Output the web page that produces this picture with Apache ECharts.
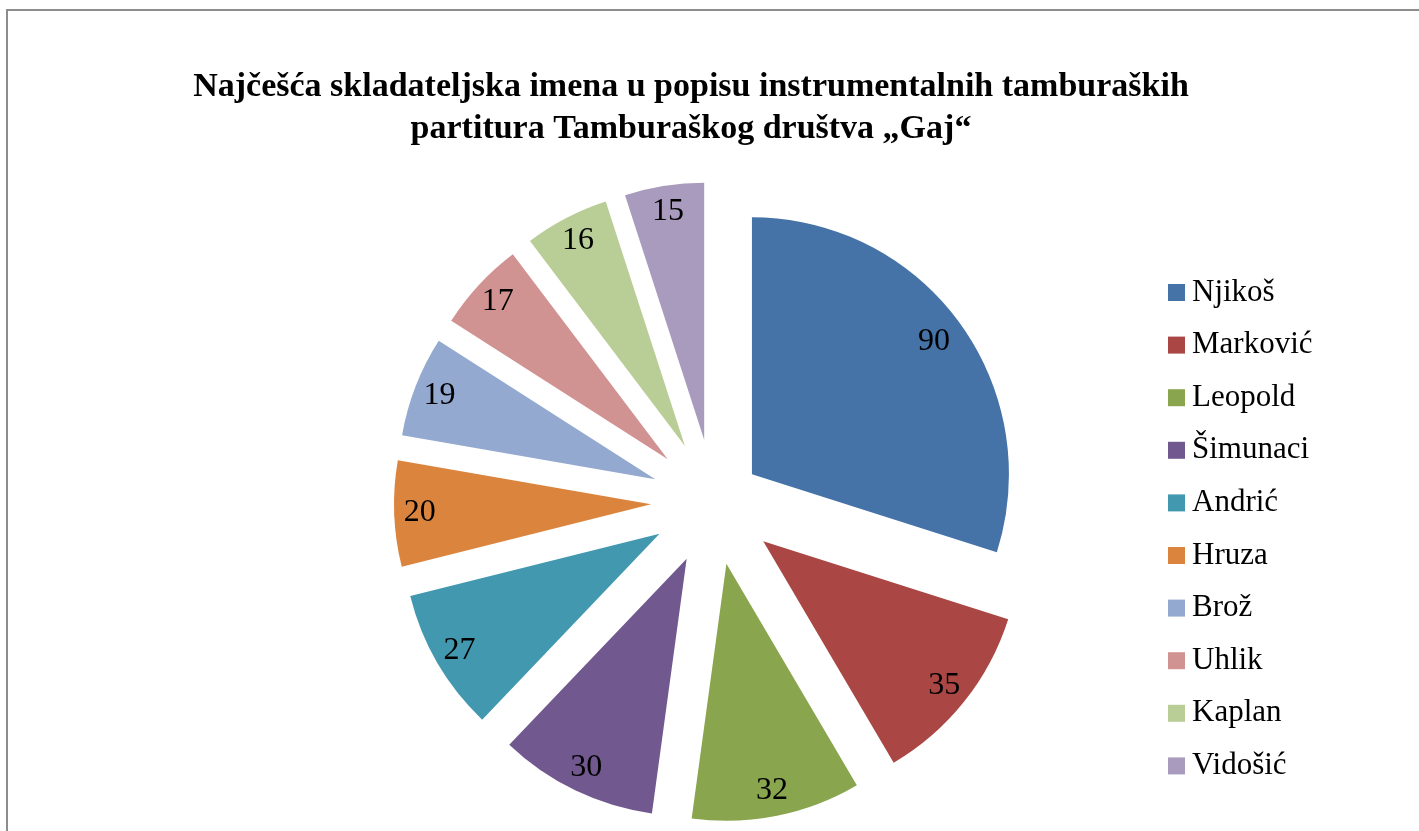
<!DOCTYPE html>
<html>
<head>
<meta charset="utf-8">
<script src="https://cdn.jsdelivr.net/npm/echarts@6/dist/echarts.min.js"></script>
<style>
  html, body { margin: 0; padding: 0; background: #fff; }
  #chart { width: 1419px; height: 831px; }
</style>
</head>
<body>
<div id="chart"></div>
<script>
const names = ['Njikoš', 'Marković', 'Leopold', 'Šimunaci', 'Andrić', 'Hruza', 'Brož', 'Uhlik', 'Kaplan', 'Vidošić'];
const counts = [90, 35, 32, 30, 27, 20, 19, 17, 16, 15];
const colors = ['#4572A7', '#AA4643', '#89A54E', '#71588F', '#4198AF', '#DB843D', '#93A9CF', '#D19392', '#B9CD96', '#A99BBD'];

const chart = echarts.init(document.getElementById('chart'));
const serif = '"Liberation Serif", "Times New Roman", serif';
const clear = 'rgba(0,0,0,0)';

// the big slice is pulled out a little less than the others
const bigName = 'Njikoš';

// sectors: colour only the wanted slices, never a label
function sectors(showBig, showRest) {
  return names.map((n, i) => {
    const visible = n === bigName ? showBig : showRest;
    return {
      name: n,
      value: counts[i],
      selected: true,
      itemStyle: { color: visible ? colors[i] : clear },
      label: { show: false }
    };
  });
}

// label rings: transparent, label only on the wanted slices
function labels(showBig, showRest) {
  return names.map((n, i) => {
    const visible = n === bigName ? showBig : showRest;
    return {
      name: n,
      value: counts[i],
      selected: true,
      itemStyle: { color: clear },
      label: { show: visible }
    };
  });
}

const pieBase = {
  type: 'pie',
  center: [714, 502],
  startAngle: 90,
  clockwise: true,
  selectedMode: 'multiple',
  avoidLabelOverlap: false,
  labelLine: { show: false },
  emphasis: { disabled: true }
};

const valueLabel = {
  position: 'inside',
  formatter: '{c}',
  fontFamily: serif,
  fontSize: 32,
  color: '#000'
};

const option = {
  animation: false,
  title: {
    text: 'Najčešća skladateljska imena u popisu instrumentalnih tamburaških\npartitura Tamburaškog društva „Gaj“',
    left: 686,
    textAlign: 'center',
    top: 61,
    textStyle: {
      fontFamily: serif,
      fontWeight: 'bold',
      fontSize: 34,
      lineHeight: 42,
      color: '#000'
    }
  },
  legend: {
    orient: 'vertical',
    left: 1168,
    top: 277,
    padding: 0,
    icon: 'rect',
    itemWidth: 17,
    itemHeight: 17,
    itemGap: 21.6,
    selectedMode: false,
    data: names.map((n, i) => ({ name: n, itemStyle: { color: colors[i] } })),
    textStyle: {
      fontFamily: serif,
      fontSize: 31,
      lineHeight: 31,
      color: '#000',
      padding: [0, 0, 0, 2]
    }
  },
  graphic: [{
    type: 'rect',
    shape: { x: 7, y: 10, width: 1500, height: 900 },
    style: { fill: 'none', stroke: '#8c8c8c', lineWidth: 2 },
    silent: true
  }],
  series: [
    Object.assign({}, pieBase, {
      radius: [0, 257],
      selectedOffset: 63,
      label: { show: false },
      data: sectors(false, true)
    }),
    Object.assign({}, pieBase, {
      radius: [0, 257],
      selectedOffset: 47,
      silent: true,
      label: { show: false },
      data: sectors(true, false)
    }),
    Object.assign({}, pieBase, {
      radius: [200, 257],
      selectedOffset: 63,
      silent: true,
      label: valueLabel,
      data: labels(false, true)
    }),
    Object.assign({}, pieBase, {
      radius: [188, 257],
      selectedOffset: 47,
      silent: true,
      label: valueLabel,
      data: labels(true, false)
    })
  ]
};

chart.setOption(option);
</script>
</body>
</html>
